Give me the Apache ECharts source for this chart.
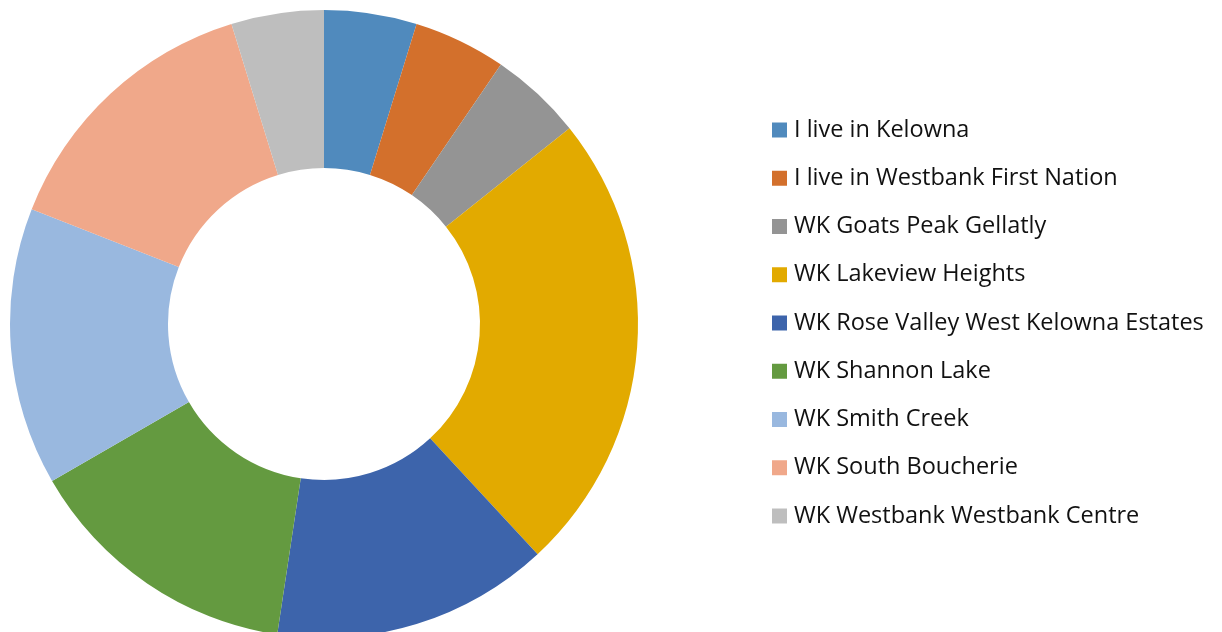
<!DOCTYPE html>
<html>
<head>
<meta charset="utf-8">
<script src="https://cdn.jsdelivr.net/npm/echarts@6/dist/echarts.min.js"></script>
<style>html,body{margin:0;padding:0;background:#fff;}#c{width:1222px;height:632px;}</style>
</head>
<body>
<div id="c"></div>
<script>
var categories = ["I live in Kelowna","I live in Westbank First Nation","WK Goats Peak Gellatly","WK Lakeview Heights","WK Rose Valley West Kelowna Estates","WK Shannon Lake","WK Smith Creek","WK South Boucherie","WK Westbank Westbank Centre"];
var values = [1,1,1,5,3,3,3,3,1];
var colors = ["#508ABD","#D3702C","#949494","#E2AA00","#3D64AB","#649A40","#99B8DF","#F0A88A","#BEBEBE"];

var chart = echarts.init(document.getElementById('c'), null, {renderer:'canvas'});
chart.setOption({
  animation:false,
  color: colors,
  legend: {
    orient:'vertical',
    left: 767,
    top: 113,
    itemWidth: 15,
    itemHeight: 15,
    itemGap: 24.25,
    icon: 'rect',
    textStyle: {fontFamily:'Open Sans', fontSize: 23.5, color:'#111', lineHeight: 24, padding:[0,0,0,2]},
    data: categories
  },
  series: [{
    type:'pie',
    center:[324,324],
    radius:[156,314],
    startAngle:90,
    clockwise:true,
    label:{show:false},
    labelLine:{show:false},
    emphasis:{disabled:true},
    itemStyle:{borderWidth:0},
    data: categories.map(function(n,i){return {name:n, value:values[i]};})
  }]
});
</script>
</body>
</html>
